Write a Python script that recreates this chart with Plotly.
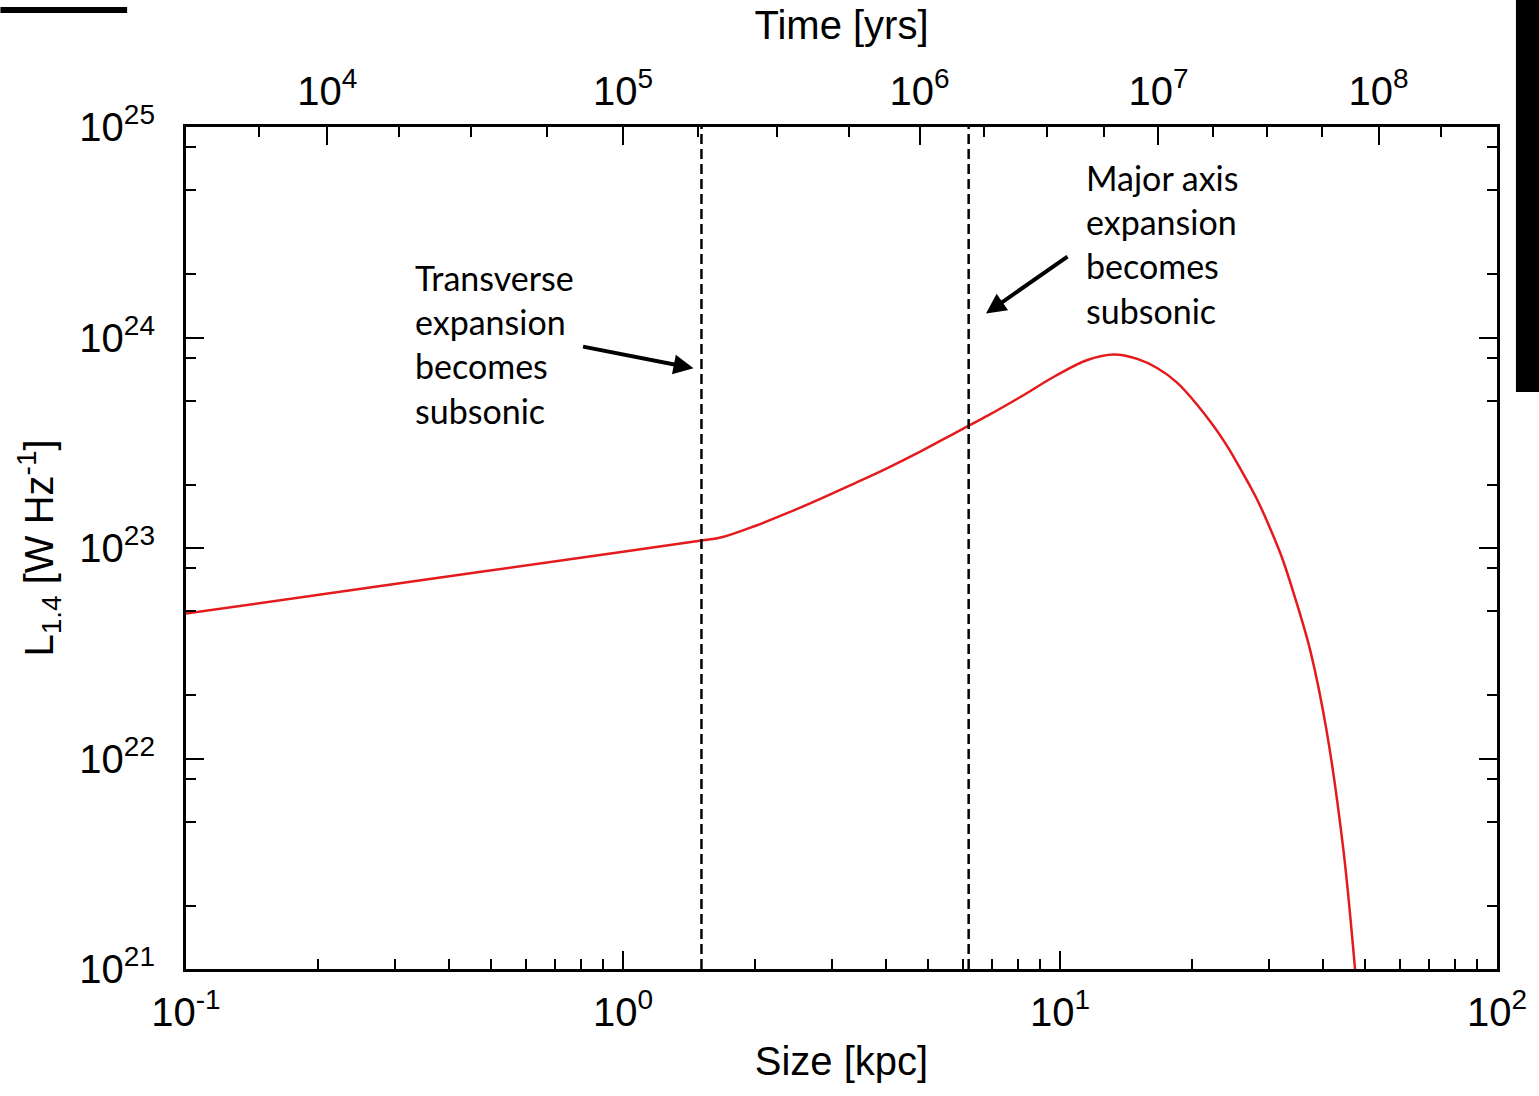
import math
import plotly.graph_objects as go

# ---------------- data ----------------
size_kpc = [0.1, 0.3, 1.0, 1.512, 1.682, 2.005, 2.388, 2.845, 3.390, 4.039, 4.811, 5.733,
            6.18, 6.83, 8.135, 9.69, 11.55, 13.29, 15.02, 16.68, 18.53, 22.07, 24.09, 26.30,
            28.21, 30.25, 32.17, 34.20, 37.33, 40.74, 44.49, 47.29, 47.97]
lum_1p4 = [4.88e22, 6.74e22, 9.61e22, 1.085e23, 1.124e23, 1.272e23, 1.471e23, 1.722e23,
           2.030e23, 2.405e23, 2.885e23, 3.507e23, 3.81e23, 4.25e23, 5.23e23, 6.51e23,
           7.82e23, 8.30e23, 7.91e23, 7.16e23, 6.10e23, 3.994e23, 3.065e23, 2.239e23,
           1.709e23, 1.242e23, 9.06e22, 6.16e22, 3.30e22, 1.356e22, 3.72e21, 1.02e21, 7.1e20]

transition_sizes_kpc = [1.512, 6.18]

size_tick_vals = [0.1, 1.0, 10.0, 100.0]
size_tick_text = ["10<sup>-1</sup>", "10<sup>0</sup>", "10<sup>1</sup>", "10<sup>2</sup>"]
size_minor_vals = [float(m) * d for d in (0.1, 1.0, 10.0) for m in range(2, 10)]

lum_tick_vals = [1e21, 1e22, 1e23, 1e24, 1e25]
lum_tick_text = ["10<sup>21</sup>", "10<sup>22</sup>", "10<sup>23</sup>", "10<sup>24</sup>", "10<sup>25</sup>"]
lum_minor_vals = [float(m) * 10.0 ** e for e in range(21, 25) for m in (2, 5, 8)]

# time axis: positions of time ticks on the size axis (kpc)
time_tick_size_kpc = [0.2105, 1.0, 4.77, 16.8, 53.6]
time_tick_text = ["10<sup>4</sup>", "10<sup>5</sup>", "10<sup>6</sup>", "10<sup>7</sup>", "10<sup>8</sup>"]
time_minor_size_kpc = [0.1468, 0.3066, 0.4498, 0.6709, 1.488, 2.246, 3.286, 6.683, 9.34,
                       12.62, 22.38, 29.78, 39.67, 74.4]

note1_text = "Transverse<br>expansion<br>becomes<br>subsonic"
note2_text = "Major axis<br>expansion<br>becomes<br>subsonic"
arrow1_tip = (1.450, 7.14e23)
arrow2_tip = (6.77, 1.30e24)

# ---------------- figure ----------------
AX_FONT = dict(family="Liberation Sans, Arial, sans-serif", size=40, color="black")
NOTE_FONT = dict(family="Lato, sans-serif", size=34, color="black")

fig = go.Figure()
fig.add_trace(go.Scatter(x=size_kpc, y=lum_1p4, mode="lines",
                         line=dict(color="#e41a1c", width=2.5, shape="spline", smoothing=1.0),
                         showlegend=False, xaxis="x", yaxis="y"))
# invisible trace to activate top axis
fig.add_trace(go.Scatter(x=[0.1], y=[1e21], mode="markers", marker=dict(opacity=0),
                         showlegend=False, xaxis="x2", yaxis="y", hoverinfo="skip"))

for s in transition_sizes_kpc:
    fig.add_shape(type="line", xref="x", yref="y domain", x0=s, x1=s, y0=0, y1=1,
                  line=dict(color="black", width=2.5, dash="10px,5px"))

common_axis = dict(showline=True, linecolor="black", linewidth=3, showgrid=False,
                   zeroline=False, ticks="inside", ticklen=18, tickwidth=2,
                   tickcolor="black", tickfont=AX_FONT)

fig.update_layout(
    width=1539, height=1096,
    margin=dict(l=186, r=39, t=127, b=127),
    paper_bgcolor="white", plot_bgcolor="white",
    xaxis=dict(type="log", range=[-1, 2], tickmode="array", tickvals=size_tick_vals,
               ticktext=size_tick_text,
               minor=dict(tickmode="array", tickvals=size_minor_vals, ticks="inside",
                          ticklen=10, tickwidth=2, tickcolor="black"),
               title=dict(text="Size [kpc]", font=AX_FONT, standoff=14),
               ticklabelstandoff=6,
               **common_axis),
    xaxis2=dict(type="log", range=[-1, 2], overlaying="x", side="top", tickmode="array",
                tickvals=time_tick_size_kpc, ticktext=time_tick_text,
                minor=dict(tickmode="array", tickvals=time_minor_size_kpc, ticks="inside",
                           ticklen=10, tickwidth=2, tickcolor="black"),
                title=dict(text="Time [yrs]", font=AX_FONT, standoff=12),
                ticklabelstandoff=3,
                **common_axis),
    yaxis=dict(type="log", range=[21, 25], tickmode="array", tickvals=lum_tick_vals,
               ticktext=lum_tick_text, mirror="ticks",
               minor=dict(tickmode="array", tickvals=lum_minor_vals, ticks="inside",
                          ticklen=10, tickwidth=2, tickcolor="black"),
               title=dict(text="L<sub>1.4</sub> [W Hz<sup>-1</sup>]", font=AX_FONT, standoff=14),
               ticklabelstandoff=20,
               **common_axis),
)

fig.add_annotation(xref="paper", yref="paper", x=(414 - 186) / 1314, y=(969 - 255) / 842,
                   xanchor="left", yanchor="top", align="left", text=note1_text,
                   showarrow=False, font=NOTE_FONT)
fig.add_annotation(xref="paper", yref="paper", x=(1086 - 186) / 1314, y=(969 - 155) / 842,
                   xanchor="left", yanchor="top", align="left", text=note2_text,
                   showarrow=False, font=NOTE_FONT)

fig.add_annotation(x=math.log10(arrow1_tip[0]), y=math.log10(arrow1_tip[1]), xref="x", yref="y",
                   text="", showarrow=True, arrowhead=2, arrowsize=1, arrowwidth=4,
                   arrowcolor="black", ax=-112, ay=-22, standoff=0)
fig.add_annotation(x=math.log10(arrow2_tip[0]), y=math.log10(arrow2_tip[1]), xref="x", yref="y",
                   text="", showarrow=True, arrowhead=2, arrowsize=1, arrowwidth=4,
                   arrowcolor="black", ax=83, ay=-58, standoff=0)

# cropping artifacts of the source image (black bars at the edges)
fig.add_shape(type="rect", xref="paper", yref="paper",
              x0=(0 - 186) / 1314, x1=(127 - 186) / 1314,
              y0=(969 - 13) / 842, y1=(969 - 7) / 842,
              fillcolor="black", line=dict(width=0), layer="above")
fig.add_shape(type="rect", xref="paper", yref="paper",
              x0=(1519 - 186) / 1314, x1=(1545 - 186) / 1314,
              y0=(969 - 392) / 842, y1=(969 + 5) / 842,
              fillcolor="black", line=dict(width=0), layer="above")

fig.write_html("out.html")
